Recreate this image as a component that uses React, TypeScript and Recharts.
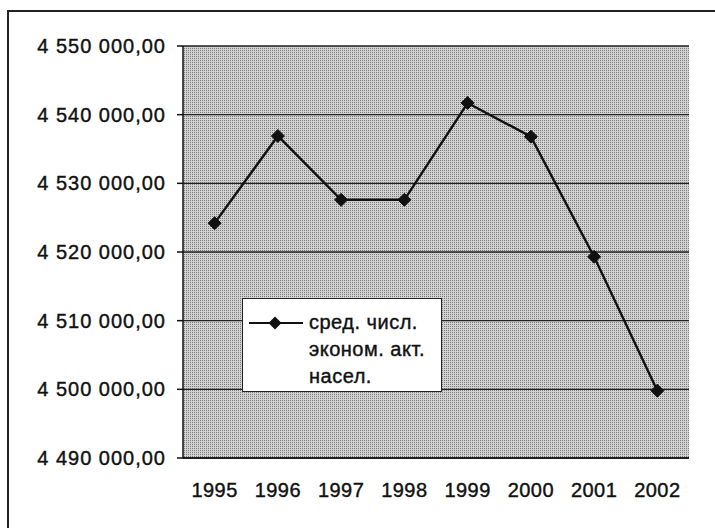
import React from "react";
import { CartesianGrid, Legend, Line, LineChart, XAxis, YAxis } from "recharts";

// chart values
const years = ["1995", "1996", "1997", "1998", "1999", "2000", "2001", "2002"];
const avgActivePopulation = [4524200, 4536900, 4527600, 4527600, 4541700, 4536800, 4519300, 4499800];
const yTicks = [4490000, 4500000, 4510000, 4520000, 4530000, 4540000, 4550000];
const bandEdges = [0, 1, 2, 3, 4, 5, 6, 7, 8];
const legendLines = ["сред. числ.", "эконом. акт.", "насел."];

const data = years.map((year, i) => ({ year, value: avgActivePopulation[i] }));

const font = "'Liberation Sans', Arial, sans-serif";

const fmt = (v: number) =>
  Math.round(v).toString().replace(/\B(?=(\d{3})+(?!\d))/g, " ") + ",00";

const Diamond = (props: any) => {
  const { cx, cy } = props;
  if (cx == null || cy == null) return null;
  const r = 6.5;
  return (
    <polygon
      points={`${cx},${cy - r} ${cx + r},${cy} ${cx},${cy + r} ${cx - r},${cy}`}
      fill="#111"
      stroke="#111"
    />
  );
};

const LegendBox = () => (
  <div
    style={{
      width: 200,
      height: 94,
      background: "#fff",
      border: "1.5px solid #222",
      display: "flex",
      fontFamily: font,
      fontSize: 20,
      letterSpacing: 0.5,
      color: "#111",
      boxSizing: "border-box",
      WebkitTextStroke: "0.4px #111",
    }}
  >
    <svg width={66} height={40} style={{ flex: "none" }}>
      <line x1={6} y1={24} x2={60} y2={24} stroke="#111" strokeWidth={2.2} />
      <polygon points="32,17.5 38.5,24 32,30.5 25.5,24" fill="#111" />
    </svg>
    <div style={{ lineHeight: "27px", paddingTop: 10 }}>
      {legendLines.map((t) => (
        <div key={t}>{t}</div>
      ))}
    </div>
  </div>
);

export default function App() {
  return (
    <div
      style={{
        position: "absolute",
        left: 0,
        top: 0,
        width: 715,
        height: 528,
        background: "#fff",
        overflow: "hidden",
      }}
    >
      <div
        style={{
          position: "absolute",
          left: 7,
          top: 10,
          width: 720,
          height: 530,
          borderLeft: "2px solid #222",
          borderTop: "2px solid #222",
        }}
      />
      <LineChart
        width={715}
        height={528}
        data={data}
        margin={{ top: 46, right: 26, left: 0, bottom: 35 }}
        style={{ position: "absolute", left: 0, top: 0 }}
      >
        <defs>
          <pattern id="stipple" width={2} height={2} patternUnits="userSpaceOnUse">
            <rect width={2} height={2} fill="#d2d2d2" />
            <rect width={1} height={1} fill="#7a7a7a" />
          </pattern>
        </defs>
        <CartesianGrid
          vertical={false}
          fill="url(#stipple)"
          fillOpacity={1}
          stroke="#222"
          strokeWidth={1.3}
        />
        <XAxis
          xAxisId="edges"
          type="number"
          dataKey="edge"
          domain={[0, 8]}
          ticks={bandEdges}
          tick={false}
          tickSize={6}
          height={5}
          axisLine={{ stroke: "#111", strokeWidth: 1.5 }}
          tickLine={{ stroke: "#111", strokeWidth: 1.5 }}
          allowDataOverflow
        />
        <XAxis
          xAxisId="years"
          dataKey="year"
          scale="band"
          axisLine={false}
          tickLine={false}
          tickSize={0}
          tickMargin={20}
          height={30}
          interval={0}
          tick={{ fill: "#111", fontSize: 20, fontFamily: font, letterSpacing: 0.5, stroke: "#111", strokeWidth: 0.4 }}
        />
        <YAxis
          domain={[4490000, 4550000]}
          ticks={yTicks}
          tickFormatter={fmt}
          width={183}
          tickSize={6}
          tickMargin={11}
          axisLine={{ stroke: "#111", strokeWidth: 1.5 }}
          tickLine={{ stroke: "#111", strokeWidth: 1.5 }}
          tick={{ fill: "#111", fontSize: 20, fontFamily: font, letterSpacing: 1, stroke: "#111", strokeWidth: 0.4 }}
          allowDataOverflow
        />
        <Legend
          layout="horizontal"
          verticalAlign="middle"
          align="center"
          content={() => <LegendBox />}
          wrapperStyle={{ left: 242, top: 298, width: 200, height: 94 }}
        />
        <Line
          xAxisId="years"
          dataKey="value"
          stroke="#111"
          strokeWidth={2.4}
          dot={<Diamond />}
          activeDot={false}
          isAnimationActive={false}
          legendType="diamond"
        />
      </LineChart>
    </div>
  );
}
